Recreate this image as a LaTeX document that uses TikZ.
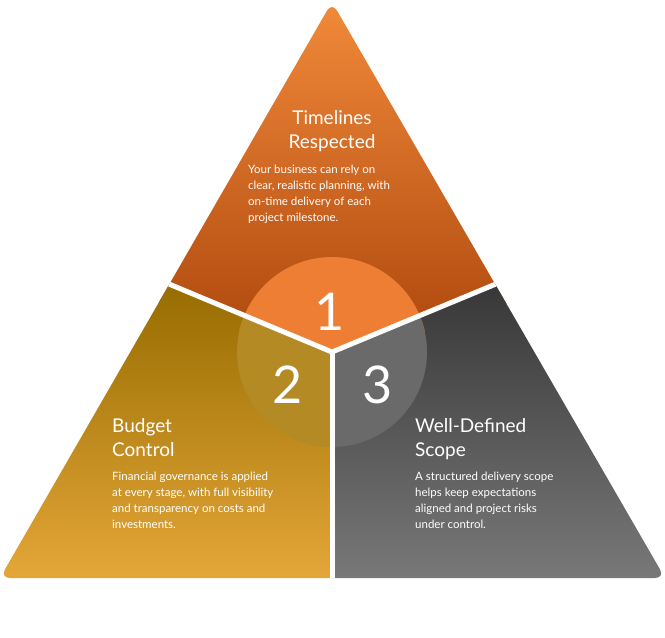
\documentclass[tikz,border=0pt]{standalone}
\usepackage{fontspec}
\usetikzlibrary{calc}
\setmainfont{Lato}
\begin{document}
\begin{tikzpicture}[x=1pt,y=-1pt,
  ttl/.style={text=white,font=\fontsize{19}{24}\selectfont,align=left,anchor=north west,inner sep=0},
  body/.style={text=white,font=\fontsize{11.5}{16}\selectfont,align=left,anchor=north west,inner sep=0},
  num/.style={text=white,font=\fontsize{52}{52}\selectfont,inner sep=0}]
\useasboundingbox (0,0) rectangle (665,638);
\coordinate (A) at (332,2); \coordinate (L) at (0,578); \coordinate (R) at (665,578);
\coordinate (C) at (332,352); \coordinate (P) at (164,282); \coordinate (Q) at (501,282);
\coordinate (B) at (332,578);
\begin{scope}
\clip[rounded corners=10pt] (A) -- (R) -- (L) -- cycle;
\shade[top color={rgb,255:red,242;green,138;blue,58}, bottom color={rgb,255:red,172;green,70;blue,12}] (332,0) -- (520,300) -- (C) -- (150,300) -- cycle;
\shade[shading angle=45, top color={rgb,255:red,150;green,108;blue,0}, bottom color={rgb,255:red,234;green,170;blue,60}] (P) -- (C) -- (B) -- (0,600) -- (-20,600) -- cycle;
\shade[shading angle=-45, top color={rgb,255:red,55;green,55;blue,55}, bottom color={rgb,255:red,125;green,125;blue,125}] (Q) -- (C) -- (B) -- (665,600) -- (685,600) -- cycle;
\begin{scope}
\clip (C) circle (95);
\fill[fill={rgb,255:red,238;green,126;blue,52}] (332,200) -- (560,300) -- (C) -- (100,300) -- cycle;
\fill[fill={rgb,255:red,180;green,138;blue,36}] ($(P)+(-100,-42)$) -- (C) -- (332,460) -- (200,460) -- cycle;
\fill[fill={rgb,255:red,106;green,106;blue,106}] ($(Q)+(100,-42)$) -- (C) -- (332,460) -- (460,460) -- cycle;
\end{scope}
\draw[white,line width=5pt] ($(P)+(-20,-8.4)$) -- (C) -- ($(Q)+(20,-8.4)$);
\draw[white,line width=5pt] (C) -- (332,600);
\end{scope}
\node[num] (n1) at (330,312) {1};
\node[num] (n2) at (288,385) {2};
\node[num] (n3) at (378,385) {3};
\node[text=white,font=\fontsize{19}{24}\selectfont,align=center,anchor=north,inner sep=0] (t1) at (332,110) {Timelines\\Respected};
\node[body] (b1) at (248,165) {Your business can rely on\\clear, realistic planning, with\\on-time delivery of each\\project milestone.};
\node[ttl] (t2) at (112,418) {Budget\\Control};
\node[body] (b2) at (112,472) {Financial governance is applied\\at every stage, with full visibility\\and transparency on costs and\\investments.};
\node[ttl] (t3) at (415,418) {Well-Defined\\Scope};
\node[body] (b3) at (415,472) {A structured delivery scope\\helps keep expectations\\aligned and project risks\\under control.};
\end{tikzpicture}
\end{document}
